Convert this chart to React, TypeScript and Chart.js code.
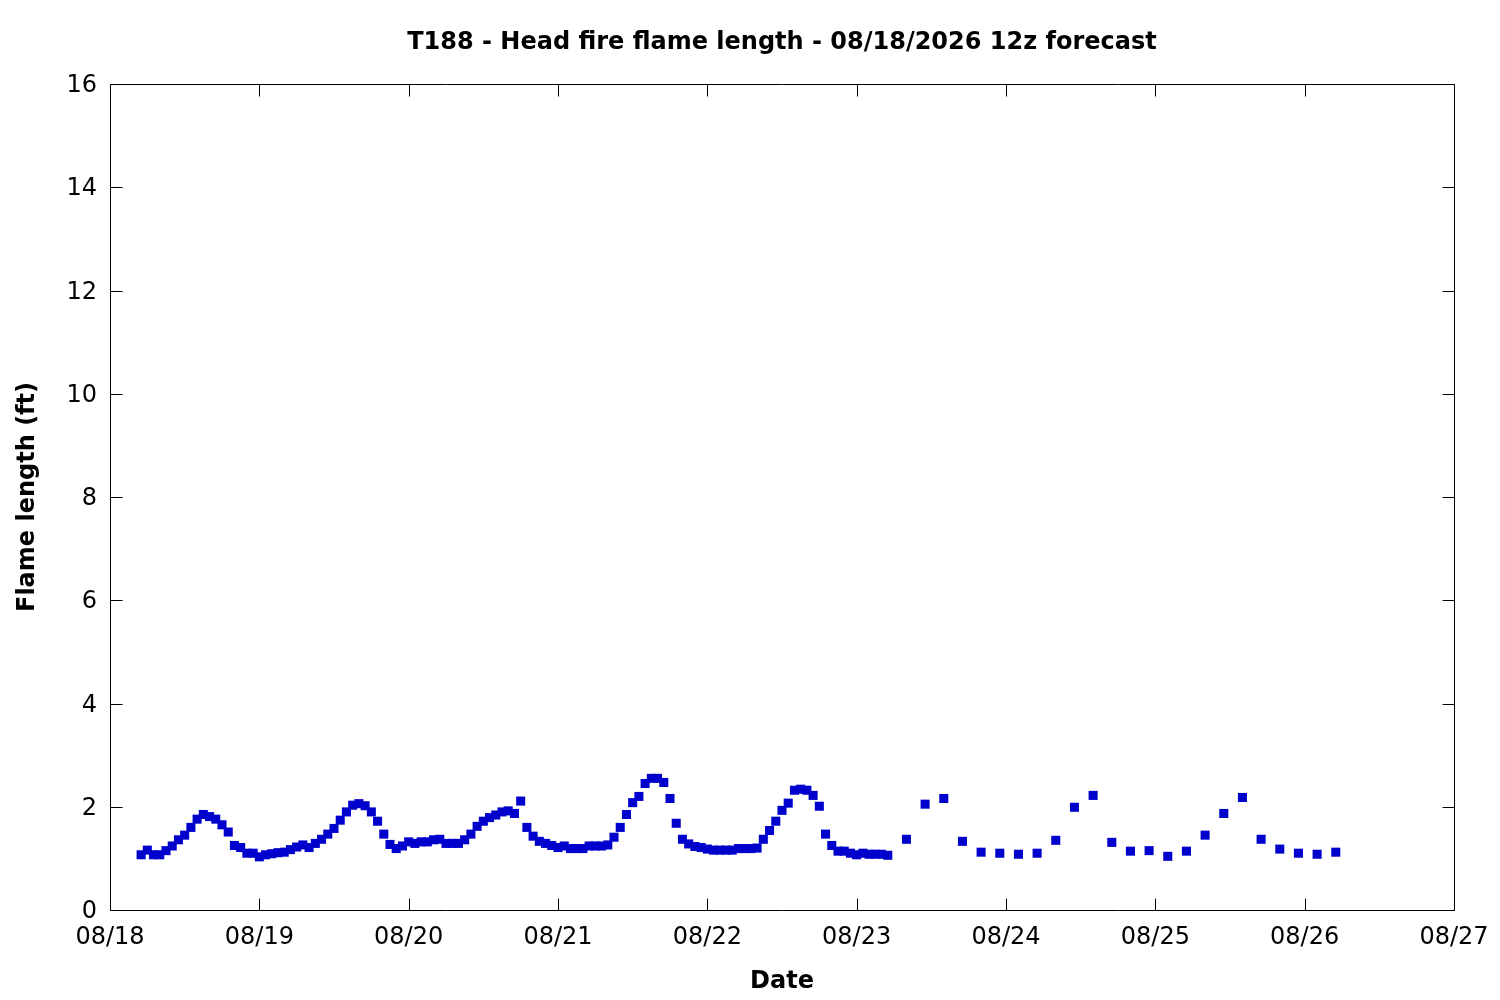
import { useEffect, useRef } from "react";
import { Chart, registerables } from "chart.js";

Chart.register(...registerables);

// Day labels on the x axis (one tick every 24 h starting 08/18 00z)
const dayLabels = ["08/18", "08/19", "08/20", "08/21", "08/22", "08/23", "08/24", "08/25", "08/26", "08/27"];

// Hourly forecast, first value at hour 5
const hourlyStart = 5;
const hourlyFlame = [
  1.07, 1.16, 1.07, 1.07, 1.15, 1.24, 1.36, 1.45, 1.6, 1.76,
  1.85, 1.81, 1.76, 1.65, 1.51, 1.25, 1.21, 1.1, 1.1, 1.03,
  1.07, 1.09, 1.11, 1.12, 1.17, 1.22, 1.26, 1.21, 1.29, 1.37,
  1.47, 1.58, 1.74, 1.9, 2.03, 2.06, 2.02, 1.9, 1.72, 1.47,
  1.27, 1.19, 1.24, 1.32, 1.29, 1.32, 1.32, 1.36, 1.37, 1.29,
  1.29, 1.29, 1.36, 1.47, 1.62, 1.72, 1.79, 1.84, 1.9, 1.92,
  1.87, 2.11, 1.6, 1.43, 1.33, 1.29, 1.25, 1.21, 1.24, 1.19,
  1.19, 1.19, 1.24, 1.24, 1.24, 1.26, 1.41, 1.6, 1.85, 2.08,
  2.2, 2.45, 2.55, 2.55, 2.47, 2.16, 1.68, 1.37, 1.28, 1.23,
  1.21, 1.18, 1.16, 1.16, 1.16, 1.16, 1.19, 1.19, 1.19, 1.2,
  1.37, 1.54, 1.72, 1.93, 2.07, 2.32, 2.34, 2.32, 2.22, 2.01,
  1.47, 1.25, 1.14, 1.14, 1.1, 1.07, 1.1, 1.08, 1.08, 1.08, 1.06,
];

// 3-hourly forecast after that, first value at hour 128
const threeHourlyStart = 128;
const threeHourlyFlame = [
  1.37, 2.05, 2.16, 1.33, 1.12, 1.1, 1.08, 1.1, 1.35, 1.99, 2.22, 1.31,
  1.14, 1.15, 1.04, 1.14, 1.45, 1.87, 2.18, 1.37, 1.18, 1.1, 1.08, 1.12,
];

const chartTitle = "T188 - Head fire flame length - 08/18/2026 12z forecast";

const FONT = "'DejaVu Sans', sans-serif";

// gnuplot-style box with inward ticks on all four sides, title centred on the plot
const framePlugin = {
  id: "frame",
  afterDraw(chart: Chart) {
    const { ctx, chartArea: a, scales } = chart;
    const L = Math.round(a.left) + 0.5;
    const R = Math.round(a.right) + 0.5;
    const T = Math.round(a.top) + 0.5;
    const B = Math.round(a.bottom) + 0.5;
    const len = 12;
    ctx.save();
    ctx.strokeStyle = "#000";
    ctx.lineWidth = 1;
    ctx.beginPath();
    ctx.rect(L, T, R - L, B - T);
    for (const t of scales.x.ticks) {
      const px = Math.round(scales.x.getPixelForValue(t.value)) + 0.5;
      ctx.moveTo(px, B);
      ctx.lineTo(px, B - len);
      ctx.moveTo(px, T);
      ctx.lineTo(px, T + len);
    }
    for (const t of scales.y.ticks) {
      const py = Math.round(scales.y.getPixelForValue(t.value)) + 0.5;
      ctx.moveTo(L, py);
      ctx.lineTo(L + len, py);
      ctx.moveTo(R, py);
      ctx.lineTo(R - len, py);
    }
    ctx.stroke();

    ctx.fillStyle = "#000";
    ctx.font = `bold 24px ${FONT}`;
    ctx.textAlign = "center";
    ctx.textBaseline = "middle";
    ctx.fillText(chartTitle, (a.left + a.right) / 2, 43);
    ctx.restore();
  },
};

export default function App() {
  const canvasRef = useRef<HTMLCanvasElement | null>(null);

  useEffect(() => {
    document.body.style.margin = "0";
    if (!canvasRef.current) return;

    const points = [
      ...hourlyFlame.map((v, i) => ({ x: hourlyStart + i, y: v })),
      ...threeHourlyFlame.map((v, i) => ({ x: threeHourlyStart + i * 3, y: v })),
    ];

    const chart = new Chart(canvasRef.current, {
      type: "scatter",
      data: {
        datasets: [
          {
            label: "Flame length",
            data: points,
            pointStyle: "rect",
            pointRadius: 6.4,
            pointBorderWidth: 0,
            backgroundColor: "#0000cd",
            borderColor: "#0000cd",
          },
        ],
      },
      options: {
        responsive: false,
        animation: false,
        devicePixelRatio: 1,
        layout: { padding: { left: 0, right: 46, top: 84, bottom: 0 } },
        plugins: {
          legend: { display: false },
          tooltip: { enabled: false },
          title: { display: false },
        },
        scales: {
          x: {
            type: "linear",
            min: 0,
            max: 216,
            border: { display: false },
            grid: { display: false, drawTicks: false },
            ticks: {
              stepSize: 24,
              autoSkip: false,
              maxRotation: 0,
              padding: 13,
              color: "#000",
              font: { family: FONT, size: 24, lineHeight: 1.2 },
              callback: (value) => dayLabels[Math.round(Number(value) / 24)] ?? "",
            },
            title: {
              display: true,
              text: "Date",
              color: "#000",
              font: { family: FONT, size: 24, weight: "bold", lineHeight: 1.2 },
              padding: { top: 0, bottom: 4 },
            },
            afterFit: (s: any) => {
              s.height = 90;
              s.paddingLeft = 0;
              s.paddingRight = 0;
            },
          },
          y: {
            min: 0,
            max: 16,
            border: { display: false },
            grid: { display: false, drawTicks: false },
            ticks: {
              stepSize: 2,
              padding: 13,
              labelOffset: 2,
              color: "#000",
              font: { family: FONT, size: 24, lineHeight: 1.2 },
            },
            title: {
              display: true,
              text: "Flame length (ft)",
              color: "#000",
              font: { family: FONT, size: 24, weight: "bold", lineHeight: 1.2 },
              padding: { top: 13, bottom: 0 },
            },
            afterFit: (s: any) => {
              s.width = 110;
              s.paddingTop = 0;
              s.paddingBottom = 0;
            },
          },
        },
      },
      plugins: [framePlugin],
    });

    return () => chart.destroy();
  }, []);

  return (
    <div style={{ width: 1500, height: 1000, background: "#fff" }}>
      <canvas ref={canvasRef} width={1500} height={1000} style={{ display: "block" }} />
    </div>
  );
}
